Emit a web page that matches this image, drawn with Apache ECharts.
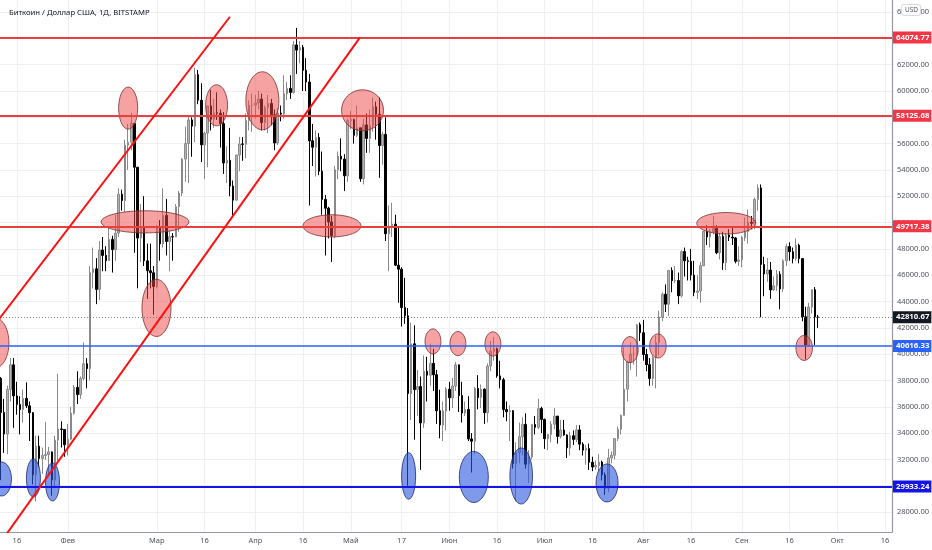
<!DOCTYPE html>
<html>
<head>
  <meta charset="UTF-8">
  <title>Биткоин / Доллар США, 1Д, BITSTAMP</title>
  <script src="https://cdn.jsdelivr.net/npm/echarts@6/dist/echarts.min.js"></script>
  <style>
    html, body { margin: 0; padding: 0; background: #fff; }
    #chart { width: 932px; height: 550px; }
  </style>
</head>
<body>
<div id="chart"></div>
<script>
  // day index: 0 = 1 Jan 2021. rows: [open, high, low, close]
  var firstDay = [10, 31, 59, 90, 120, 151, 181, 212, 243]; // first candle of each month
  var jan = [
    [38150,38264,30420,35566],[35566,36600,32500,33922],[33922,37600,32400,37316],[37316,39700,36400,39187],
    [39187,39700,34400,36825],[36825,37900,35400,36178],[36178,36800,33900,35792],[35792,37300,34800,36630],
    [36630,37850,35900,36070],[36070,36400,33400,35548],[35548,35600,30100,30825],[30825,33800,28800,33005],
    [33005,33800,31400,32067],[32067,32900,30900,32289],[32289,34850,31950,32366],[32366,32950,30850,32569],
    [32569,32600,29240,30432],[30432,33800,29800,33466],[33466,38500,31900,34316],[34316,34900,32900,34269],
    [34269,34300,32200,33114]
  ];
  var feb = [
    [33114,34700,32300,33538],[33538,36000,33450,35510],[35510,37650,35400,37472],[37472,38700,36200,36926],
    [36926,38300,36600,38144],[38144,40900,38000,39266],[39266,39700,37400,38903],[38903,46700,38000,46196],
    [46196,48100,45000,46481],[46481,47300,43800,44918],[44918,48600,44100,47910],[47910,48900,46300,47504],
    [47504,48200,46300,47105],[47105,49700,47100,48717],[48717,49000,46200,47945],[47945,50600,47100,49199],
    [49199,52600,48900,52149],[52149,52500,50900,51679],[51679,56300,50800,55888],[55888,57500,54000,56099],
    [56099,58350,55500,57539],[57539,57540,47700,54207],[54207,54207,45000,48824],[48824,51400,47000,49705],
    [49705,52000,46700,47093],[47093,48400,44200,46339],[46339,48400,45000,46188],[46188,46700,43000,45137]
  ];
  var mar = [
    [45137,49800,45000,49631],[49631,50200,47100,48378],[48378,52600,48100,50538],[50538,51800,47500,48561],
    [48561,49400,46300,48927],[48927,49200,47100,48912],[48912,51400,48900,51206],[51206,52400,49300,52246],
    [52246,54900,52000,54824],[54824,57300,53100,56008],[56008,58100,53000,57805],[57805,58000,55000,57332],
    [57332,61780,56100,61243],[61243,61600,59000,59302],[59302,60600,54600,55907],[55907,56900,53300,56804],
    [56804,58900,54200,58870],[58870,60100,57000,57858],[57858,59400,57200,58346],[58346,59900,57800,58313],
    [58313,58600,55700,57523],[57523,58400,53700,54529],[54529,55800,53000,54738],[54738,57200,52000,52774],
    [52774,53200,50400,51704],[51704,55100,51700,55137],[55137,56500,53900,55973],[55973,56500,54700,55950],
    [55950,58300,54900,57750],[57750,59300,57000,58917],[58917,59800,56900,58918]
  ];
  var apr = [
    [58918,59700,57900,59095],[59095,60000,58600,59384],[59384,59800,57000,57603],[57603,58900,57000,58758],
    [58758,59700,56800,59057],[59057,59400,57400,58192],[58192,58600,55500,56048],[56048,58700,55900,58323],
    [58323,58900,57700,58245],[58245,61200,57900,59793],[59793,60700,59300,60204],[60204,61200,59400,59893],
    [59893,63800,59800,63503],[63503,64800,61300,63109],[63109,63800,62100,63314],[63314,63500,60000,61572],
    [61572,62500,60000,60683],[60683,61300,51300,56216],[56216,57500,54300,55724],[55724,57000,53500,56473],
    [56473,56800,53600,53906],[53906,55400,50600,51762],[51762,52100,47500,51093],[51093,51200,48800,50050],
    [50050,50500,47000,49004],[49004,54300,48800,54021],[54021,55400,53300,55033],[55033,56400,53900,54824],
    [54824,55200,52400,53555],[53555,57900,53100,57750]
  ];
  var may = [
    [57750,58500,57100,57828],[57828,57900,56000,56631],[56631,58900,56500,57200],[57200,57200,53100,53333],
    [53333,57900,52900,57424],[57424,58300,55300,56396],[56396,58600,55300,57356],[57356,59500,56900,58803],
    [58803,59200,56300,58232],[58232,59500,53400,55859],[55859,56900,54400,56704],[56704,58000,48600,49150],
    [49150,51300,46300,49716],[49716,51500,48900,49880],[49880,50600,46700,46760],[46760,49700,43900,46456],
    [46456,46600,42100,43537],[43537,45800,42300,42909],[42909,43500,30000,37002],[37002,42400,35000,40782],
    [40782,42200,33500,37304],[37304,38800,35300,37536],[37536,38300,31200,34770],[34770,39900,34400,38705],
    [38705,39800,36400,38402],[38402,40800,37600,39294],[39294,40400,37200,38436],[38436,38800,34700,35697],
    [35697,37300,33600,34616],[34616,36400,33400,35678],[35678,37500,34200,37332]
  ];
  var jun = [
    [37332,37900,35700,36684],[36684,38200,35900,37575],[37575,39400,37200,39188],[39188,39200,35600,36851],
    [36851,37900,34800,35520],[35520,36400,35300,35796],[35796,36800,33400,33552],[33552,34000,31000,33380],
    [33380,37500,32400,37389],[37389,38400,35800,36702],[36702,37700,35900,37334],[37334,37400,34700,35552],
    [35552,39300,34800,39098],[39098,41000,38700,40218],[40218,41300,39500,40407],[40407,40500,38200,38347],
    [38347,39500,37400,38053],[38053,38200,35200,35787],[35787,36400,34900,35615],[35615,36100,33400,35698],
    [35698,35750,31300,31676],[31676,33300,28800,32505],[32505,34800,31700,33723],[33723,35200,32300,34662],
    [34662,35500,31300,31637],[31637,32700,30200,32186],[32186,34700,32000,34649],[34649,35300,33900,34434],
    [34434,36600,34300,35867],[35867,36000,34000,35040]
  ];
  var jul = [
    [35040,35100,32800,33572],[33572,33900,32700,33897],[33897,34900,33300,34668],[34668,35900,34300,35287],
    [35287,35300,33200,33746],[33746,35000,33600,34235],[34235,35000,33800,33855],[33855,33900,32100,32877],
    [32877,34100,32300,33798],[33798,34200,33100,33520],[33520,34600,33300,34240],[34240,34600,32700,33155],
    [33155,33300,32300,32702],[32702,33100,31600,32822],[32822,33200,31200,31780],[31780,32200,31100,31421],
    [31421,31900,31200,31533],[31533,32400,31100,31796],[31796,31900,30400,30817],[30817,31000,29300,29807],
    [29807,32800,29500,32110],[32110,32600,31700,32313],[32313,33600,32000,33581],[33581,34500,33400,34292],
    [34292,35400,33900,35350],[35350,40500,35300,37337],[37337,39500,36400,39406],[39406,40900,38800,39995],
    [39995,40600,39200,40008],[40008,42300,38300,42235],[42235,42400,41000,41626]
  ];
  var aug = [
    [41626,42600,39500,39974],[39974,40400,38700,39201],[39201,39700,37600,38152],[38152,39900,37600,39747],
    [39747,41400,37400,40869],[40869,43300,39900,42816],[42816,44700,42500,44555],[44555,45300,43200,43798],
    [43798,46400,42900,46365],[46365,46600,44700,45585],[45585,46700,45400,45593],[45593,46200,43800,44428],
    [44428,47900,44300,47793],[47793,48100,45900,47096],[47096,47400,45600,47047],[47047,48000,45600,46004],
    [46004,47100,44400,44695],[44695,46000,44200,44801],[44801,47000,43900,46717],[46717,49300,46700,49339],
    [49339,49800,48300,48905],[48905,49500,48100,49321],[49321,50500,49100,49546],[49546,49800,47600,47706],
    [47706,49200,47200,48960],[48960,49300,46400,46942],[46942,49200,46400,49058],[49058,49500,48600,48902],
    [48902,49600,48300,48829],[48829,48900,46900,47054],[47054,48200,46700,47166]
  ];
  var sep = [
    [47166,49000,46600,48847],[48847,50400,48600,49327],[49327,51000,48400,50025],[50025,50500,49500,49944],
    [49944,51900,49500,51753],[51753,52900,50900,52633],[52633,52900,42800,46811],[46811,47400,44400,46091],
    [46091,47300,45500,46391],[46391,47000,44200,44883],[44883,45900,44800,45201],[45201,46400,44800,46063],
    [46063,46300,43400,44963],[44963,47200,44700,47092],[47092,48400,46700,48176],[48176,48500,47100,47783],
    [47783,48100,46900,47267],[47267,48800,47100,48278],[48278,48400,46900,47260],[47260,47300,42500,42844],
    [42844,43600,39600,40693],[40693,43900,40600,43574],[43574,44900,43100,44895],[44895,45100,40700,42830],
    [42830,42970,42000,42810.67]
  ];

  var tickDays = [15, 31, 59, 74, 90, 105, 120, 136, 151, 166, 181, 196, 212, 227, 243, 258, 273, 288];
  var tickLabels = ['16','Фев','Мар','16','Апр','16','Май','17','Июн','16','Июл','16','Авг','16','Сен','16','Окт','16'];
  var priceTicks = [28000, 30000, 32000, 34000, 36000, 38000, 40000, 42000, 44000, 46000, 48000,
                    50000, 52000, 54000, 56000, 58000, 60000, 62000, 64000, 66000];

  var redLevels = [64074.77, 58125.68, 49717.38];
  var blueLevels = [40616.33, 29933.24];
  var lastPrice = 42810.67;

  // channel lines: [day, price]
  var channelUpper = [[3.4, 40763], [82.0, 65645]];
  var channelLower = [[9.0, 25392], [122.9, 64075]];

  // highlighted zones: [day, price, half width in days, half height in USD]
  var redZones = [
    [50.0, 58700, 3.0, 1600], [55.3, 50055, 13.8, 840], [58.9, 43514, 4.56, 2170],
    [77.8, 58914, 3.46, 1560], [92.2, 59257, 5.19, 2205], [123.7, 58534, 6.6, 1560],
    [114.1, 49750, 9.12, 840], [238.1, 49948, 9.28, 815], [8.1, 40852, 4.4, 1900],
    [145.85, 40967, 2.5, 950], [153.7, 40799, 2.5, 915], [164.7, 40776, 2.5, 920],
    [207.8, 40343, 2.6, 990], [216.6, 40624, 2.6, 915], [262.6, 40472, 2.6, 950]
  ];
  var blueZones = [
    [10.2, 30510, 3.1, 1293], [20.2, 30586, 2.2, 1445], [26.2, 30282, 2.2, 1445],
    [138.2, 30738, 2.2, 1772], [158.7, 30662, 4.56, 1939], [173.6, 30738, 3.55, 2129],
    [200.6, 30205, 3.46, 1445]
  ];

  var months = [jan, feb, mar, apr, may, jun, jul, aug, sep];
  var candles = [];
  months.forEach(function (rows, m) {
    rows.forEach(function (r, i) {
      // echarts order: [x, open, close, lowest, highest]
      candles.push([firstDay[m] + i, r[0], r[3], r[2], r[1]]);
    });
  });

  function tag(value, bg) {
    return {
      yAxis: value,
      label: {
        show: true, position: 'end', distance: 1,
        formatter: value.toFixed(2),
        backgroundColor: bg, color: '#fff',
        fontSize: 7.8, fontWeight: 'bold', fontFamily: 'Noto Sans',
        padding: [2, 2, 2, 3]
      }
    };
  }

  function zoneSeries(zones, fill, stroke) {
    return {
      type: 'custom', z: 3, silent: true,
      data: zones,
      renderItem: function (params, api) {
        var c = api.coord([api.value(0), api.value(1)]);
        var s = api.size([api.value(2), api.value(3)]);
        return {
          type: 'ellipse',
          shape: { cx: c[0], cy: c[1], rx: s[0], ry: s[1] },
          style: { fill: fill, stroke: stroke, lineWidth: 0.8 }
        };
      }
    };
  }

  var levelLines = [];
  redLevels.forEach(function (v) {
    var d = tag(v, '#f23645');
    d.lineStyle = { color: '#e8403c', width: 1.8, type: 'solid' };
    levelLines.push(d);
  });
  var b1 = tag(blueLevels[0], '#2962ff');
  b1.lineStyle = { color: '#2962ff', width: 1.6, type: 'solid' };
  levelLines.push(b1);
  var b2 = tag(blueLevels[1], '#1414e6');
  b2.lineStyle = { color: '#1414e6', width: 2, type: 'solid' };
  levelLines.push(b2);
  var lp = tag(lastPrice, '#131722');
  lp.lineStyle = { color: '#666', width: 0.8, type: [1, 2] };
  levelLines.push(lp);

  var chart = echarts.init(document.getElementById('chart'), null, { renderer: 'canvas' });
  chart.setOption({
    animation: false,
    backgroundColor: '#fff',
    textStyle: { fontFamily: 'Noto Sans' },
    title: {
      text: 'Биткоин / Доллар США, 1Д, BITSTAMP',
      left: 4, top: 4,
      textStyle: { fontSize: 7.7, fontWeight: 'normal', color: '#131722' }
    },
    grid: { left: 0, right: 40, top: 0, bottom: 18 },
    xAxis: {
      type: 'value', min: 9.69, max: 290.2,
      axisLine: { show: true, lineStyle: { color: '#9598a1', width: 1.2 } },
      axisTick: { show: false, customValues: tickDays },
      axisLabel: {
        customValues: tickDays, margin: 5, fontSize: 7.5, color: '#50535e',
        formatter: function (v) { return tickLabels[tickDays.indexOf(v)]; }
      },
      splitLine: { show: true, lineStyle: { color: '#eef0f4', width: 1 } }
    },
    yAxis: {
      type: 'value', position: 'right', min: 26480, max: 66918,
      axisLine: { show: true, lineStyle: { color: '#9598a1', width: 1.2 } },
      axisTick: { show: false, customValues: priceTicks },
      axisLabel: {
        customValues: priceTicks, margin: 5, fontSize: 7.5, color: '#50535e',
        formatter: function (v) { return v.toFixed(2); }
      },
      splitLine: { show: true, lineStyle: { color: '#eef0f4', width: 1 } }
    },
    graphic: [
      { type: 'rect', right: 11, top: 4, z: 100,
        shape: { width: 19, height: 11, r: 2 },
        style: { fill: '#fff', stroke: '#c9cbd1', lineWidth: 0.8 } },
      { type: 'text', right: 14, top: 6.5, z: 101,
        style: { text: 'USD', fontSize: 6.5, fill: '#50535e', fontFamily: 'Noto Sans' } }
    ],
    series: [
      {
        type: 'candlestick', z: 2,
        data: candles,
        encode: { x: 0, y: [1, 2, 3, 4] },
        barWidth: 2,
        itemStyle: {
          color: '#b4b4b4', borderColor: '#8a8a8a',
          color0: '#000', borderColor0: '#000', borderWidth: 1
        }
      },
      zoneSeries(redZones, 'rgba(240, 70, 70, 0.5)', '#7a2f2f'),
      zoneSeries(blueZones, 'rgba(41, 86, 220, 0.6)', '#1c2a6e'),
      {
        type: 'line', z: 4, data: [], silent: true,
        markLine: { symbol: ['none', 'none'], silent: true, animation: false, data: levelLines }
      },
      {
        type: 'line', z: 5, data: channelUpper, showSymbol: false, clip: true, silent: true,
        lineStyle: { color: '#ff1010', width: 2 }
      },
      {
        type: 'line', z: 5, data: channelLower, showSymbol: false, clip: true, silent: true,
        lineStyle: { color: '#ff1010', width: 2 }
      }
    ]
  });
</script>
</body>
</html>
